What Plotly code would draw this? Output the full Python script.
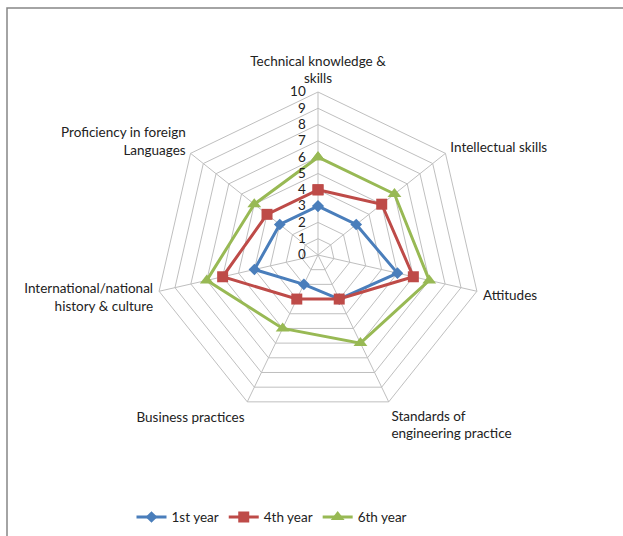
import plotly.graph_objects as go

categories = [
    "Technical knowledge &<br>skills",
    "Intellectual skills",
    "Attitudes",
    "Standards of<br>engineering practice",
    "Business practices",
    "International/national<br>history & culture",
    "Proficiency in foreign<br>Languages",
]
series_names = ["1st year", "4th year", "6th year"]
year1 = [3, 3, 5, 3, 2, 4, 3]
year4 = [4, 5, 6, 3, 3, 6, 4]
year6 = [6, 6, 7, 6, 5, 7, 5]
radial_ticks = list(range(0, 11))

colors = ["#4A7EBB", "#BE4B48", "#98B954"]
symbols = ["diamond", "square", "triangle-up"]
sizes = [9, 11, 12]

fig = go.Figure()
for name, vals, c, s, sz in zip(series_names, [year1, year4, year6], colors, symbols, sizes):
    fig.add_trace(go.Scatterpolar(
        r=vals + vals[:1],
        theta=categories + categories[:1],
        mode="lines+markers",
        name=name,
        line=dict(color=c, width=3),
        marker=dict(symbol=s, size=sz, color=c),
    ))

W, H = 623, 536
cx, cy, R = 318, 255, 163
fig.update_layout(
    width=W, height=H,
    margin=dict(l=0, r=0, t=0, b=0),
    paper_bgcolor="white",
    plot_bgcolor="white",
    font=dict(family="Lato, Open Sans, sans-serif", size=12, color="#222222"),
    polar=dict(
        domain=dict(x=[(cx - R) / W, (cx + R) / W], y=[(H - cy - R) / H, (H - cy + R) / H]),
        gridshape="linear",
        bgcolor="white",
        angularaxis=dict(
            rotation=90, direction="clockwise",
            showline=True, linecolor="#BFBFBF", linewidth=1,
            gridcolor="#BFBFBF",
            ticks="outside", ticklen=3, tickcolor="rgba(0,0,0,0)",
            tickfont=dict(size=13.5, color="#222222"),
        ),
        radialaxis=dict(
            range=[0, 10], tickvals=radial_ticks, angle=90, tickangle=90,
            side="counterclockwise",
            showline=False, gridcolor="#BFBFBF",
            ticks="outside", ticklen=7, tickcolor="rgba(0,0,0,0)",
            tickfont=dict(size=13.5, color="#222222"),
        ),
    ),
    legend=dict(
        orientation="h", x=272 / W, xanchor="center", y=0.035, yanchor="middle",
        font=dict(size=13.5, color="#222222"),
        itemwidth=30,
    ),
    shapes=[dict(type="rect", xref="paper", yref="paper",
                 x0=7 / W, x1=1.05, y0=-0.05, y1=1 - 8 / H,
                 line=dict(color="#868686", width=1.5))],
)

fig.write_html("out.html")
